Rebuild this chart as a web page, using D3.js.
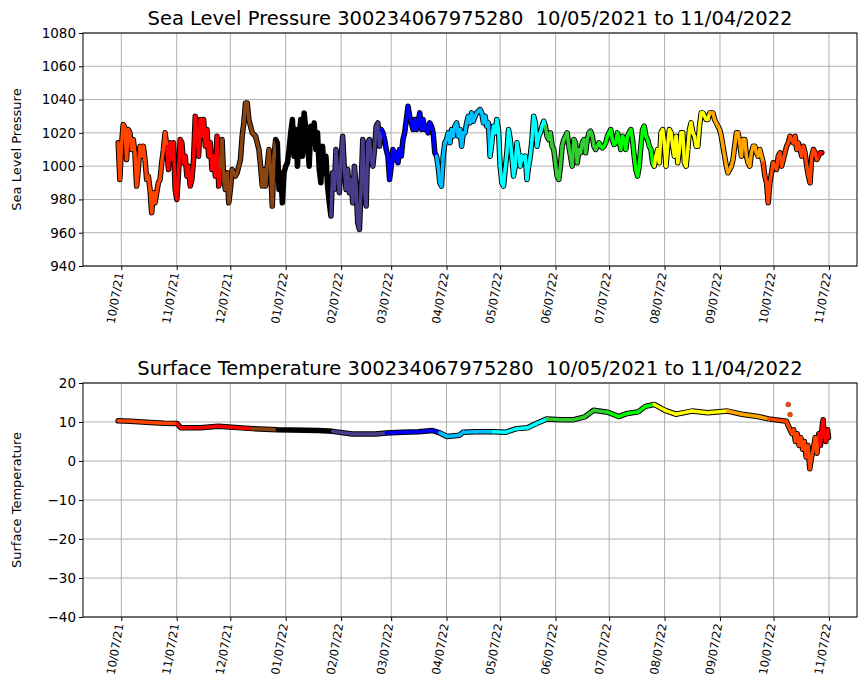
<!DOCTYPE html>
<html><head><meta charset="utf-8">
<script src="https://cdn.jsdelivr.net/npm/d3@7"></script>
<style>body{margin:0;background:#fff}text{font-family:"DejaVu Sans",sans-serif}</style>
</head><body><svg id="c" width="867" height="700"></svg>
<script>
const startDate = new Date(2021, 9, 5, 6);
const stepHours = 22.5;
const pressure = [1014,992,1013,1025,1023,1004,1022,1020,1010,1016,1008,988,998,1012,1006,1012,1004,992,994,986,972,984,978,984,990,992,1002,1010,1020,1012,998,1014,1004,1014,986,980,996,1016,1014,1002,1006,994,1000,988,992,1004,1030,1020,1006,1028,1018,1028,1012,1022,1006,1014,998,1006,994,1018,988,1000,1016,992,986,996,978,986,998,996,994,996,1000,1004,1018,1026,1038,1038,1028,1024,1020,1019,1018,1014,1010,1000,988,998,988,1000,1010,998,976,1006,1016,
1014,986,996,978,996,1000,1002,1010,1020,1028,1006,1022,1000,1018,1028,1006,1032,1022,1014,1000,1024,1014,1026,1010,1020,998,990,1012,996,1006,988,978,970,996,986,1010,994,984,1004,1018,998,986,998,984,992,978,1000,988,966,962,988,1016,986,976,1014,1016,1004,1000,1010,1024,1026,1012,1022,1020,1016,1010,1006,992,1000,1010,1004,1008,1002,1010,1006,1016,1020,1028,1036,1030,1026,1022,1028,1022,1026,1032,1022,1028,1022,1024,1020,1026,1024,1020,1008,1006,1000,990,988,1006,1014,1016,1020,1014,1022,1018,1024,1026,1018,1022,1012,1020,1020,
1026,1030,1026,1032,1027,1030,1032,1033,1034,1032,1026,1030,1024,1026,1006,1014,1024,1020,1028,1022,1000,990,988,998,1008,1022,1016,1006,994,1000,1014,1008,1000,1006,1004,1006,992,1000,1006,1016,1030,1026,1012,1018,1020,1024,1027,1024,1018,1016,1020,1012,1010,1002,994,992,1000,1012,1016,1018,1020,1012,1006,1000,1016,1014,1002,1010,1008,1014,1016,1008,1016,1020,1021,1018,1012,1010,1012,1014,1012,1011,1012,1014,1018,1020,1022,1016,1013,1014,1020,1016,1010,1018,1016,1010,1018,1020,1022,1016,1006,998,994,1000,1012,1022,1024,1018,1016,1012,1010,1002,1000,1006,
1010,1002,1020,1022,1014,1000,1012,1022,1020,1012,1006,1018,1002,1010,1020,1020,1002,1000,1010,1022,1026,1020,1018,1012,1012,1024,1032,1032,1030,1028,1028,1032,1032,1032,1028,1026,1024,1022,1018,1012,1006,1000,996,998,1000,1004,1012,1020,1020,1014,1006,1016,1016,1006,1002,1000,1008,1012,1012,1008,1006,1010,1006,1002,994,990,978,990,996,1002,1000,998,1006,1008,1000,1004,1008,1012,1014,1018,1016,1014,1018,1010,1014,1010,1006,1012,1008,1000,994,990,1006,1010,1008,1004,1006,1008,1008];
const tempDays = [0,7,18,26,33,35,46,56,75,89,112,120,131,144,150,159,168,176,180,184,191,193,200,210,217,223,229,234,240,248,255,261,266,274,280,285,291,295,300,306,312,321,330,341,349,358,364,374,375,377,378,379,380,381,382,383,384,385,386,387,388,389,390,391,392,393,394,394.5,395,396,397,397.5];
const tempVals = [10.3,10.2,9.9,9.7,9.6,8.5,8.5,8.9,8.3,8.0,7.8,7.6,6.9,6.9,7.2,7.4,7.5,7.8,7.2,6.3,6.6,7.4,7.5,7.5,7.4,8.3,8.5,9.6,10.8,10.6,10.6,11.3,13.0,12.5,11.4,12.2,12.6,14.0,14.5,13.0,12.0,12.8,12.4,12.8,12.0,11.4,10.8,10.2,9.0,7.0,8,5,7,4,6,3,5,1,4,-2,1,3,6,2,7,4,9,10.6,7,5,8,6];
const tempOutlierDays = [375,376];
const tempOutlierVals = [14.5,11.9];
const monthColors = ["#ff4500","#ff0000","#8b4513","#000000","#483d8b","#0000ff","#00bfff","#00ffff","#32cd32","#00ff00","#ffff00","#ffa500","#ff4500","#ff0000"];
const pressTicks = [940,960,980,1000,1020,1040,1060,1080];
const tempTicks = [-40,-30,-20,-10,0,10,20];
const tickDates = d3.range(14).map(i => new Date(2021, 9 + i, 7));

const svg = d3.select("#c");
const fmt = d3.timeFormat("%m/%d/%y");
const dayMs = 864e5;
const pData = pressure.map((v,i)=>({t:new Date(+startDate + i*stepHours*36e5), v}));
const tData = tempDays.map((d,i)=>({t:new Date(+startDate + d*dayMs), v:tempVals[i]}));
const oData = tempOutlierDays.map((d,i)=>({t:new Date(+startDate + d*dayMs), v:tempOutlierVals[i]}));
function colorOf(t){ const m=(t.getFullYear()-2021)*12 + t.getMonth() - 9; return monthColors[Math.max(0,Math.min(13,m))]; }
const t0 = pData[0].t, t1 = pData[pData.length-1].t, span = t1 - t0;
const x = d3.scaleTime().domain([new Date(+t0 - 0.05*span), new Date(+t1 + 0.05*span)]).range([83, 857]);

function panel(top, bottom, ydom, ticks, title, ylabel, data, outliers){
  const y = d3.scaleLinear().domain(ydom).range([bottom, top]);
  const g = svg.append("g");
  g.append("g").selectAll("line").data(tickDates).join("line")
    .attr("x1",d=>x(d)).attr("x2",d=>x(d)).attr("y1",top).attr("y2",bottom).attr("stroke","#b0b0b0");
  g.append("g").selectAll("line").data(ticks).join("line")
    .attr("x1",83).attr("x2",857).attr("y1",d=>y(d)).attr("y2",d=>y(d)).attr("stroke","#b0b0b0");
  const line = d3.line().x(d=>x(d.t)).y(d=>y(d.v));
  g.append("path").datum(data).attr("d",line).attr("fill","none").attr("stroke","#000").attr("stroke-width",5.5).attr("stroke-linejoin","round").attr("stroke-linecap","round");
  const segs = d3.pairs(data);
  g.append("g").selectAll("line").data(segs).join("line")
    .attr("x1",d=>x(d[0].t)).attr("y1",d=>y(d[0].v)).attr("x2",d=>x(d[1].t)).attr("y2",d=>y(d[1].v))
    .attr("stroke",d=>colorOf(d[0].t)).attr("stroke-width",3.5).attr("stroke-linecap","round");
  if(outliers) g.append("g").selectAll("circle").data(outliers).join("circle")
    .attr("cx",d=>x(d.t)).attr("cy",d=>y(d.v)).attr("r",2.5).attr("fill",d=>colorOf(d.t)).attr("stroke","#555").attr("stroke-width",0.5);
  const ax = g.append("g").attr("transform",`translate(0,${bottom})`).call(d3.axisBottom(x).tickValues(tickDates).tickFormat(fmt).tickSizeOuter(0).tickSize(4));
  ax.selectAll("text").attr("transform","rotate(-80)").attr("text-anchor","end").attr("dx","-0.6em").attr("dy","-0.35em").attr("font-size",11.5).attr("fill","#000");
  ax.select(".domain").remove();
  const ay = g.append("g").attr("transform","translate(83,0)").call(d3.axisLeft(y).tickValues(ticks).tickFormat(d=>d<0?"\u2212"+(-d):d).tickSize(4).tickSizeOuter(0));
  ay.selectAll("text").attr("font-size",13.5).attr("fill","#000");
  ay.select(".domain").remove();
  g.append("rect").attr("x",83).attr("y",top).attr("width",774).attr("height",bottom-top).attr("fill","none").attr("stroke","#000");
  g.append("text").attr("x",470).attr("y",top-8).attr("text-anchor","middle").attr("font-size",19.5).style("white-space","pre").text(title);
  g.append("text").attr("transform",`translate(21,${(top+bottom)/2}) rotate(-90)`).attr("text-anchor","middle").attr("font-size",13).text(ylabel);
}
panel(33, 266, [940,1080], pressTicks, "Sea Level Pressure 300234067975280  10/05/2021 to 11/04/2022", "Sea Level Pressure", pData);
panel(383, 617, [-40,20], tempTicks, "Surface Temperature 300234067975280  10/05/2021 to 11/04/2022", "Surface Temperature", tData, oData);
</script></body></html>
